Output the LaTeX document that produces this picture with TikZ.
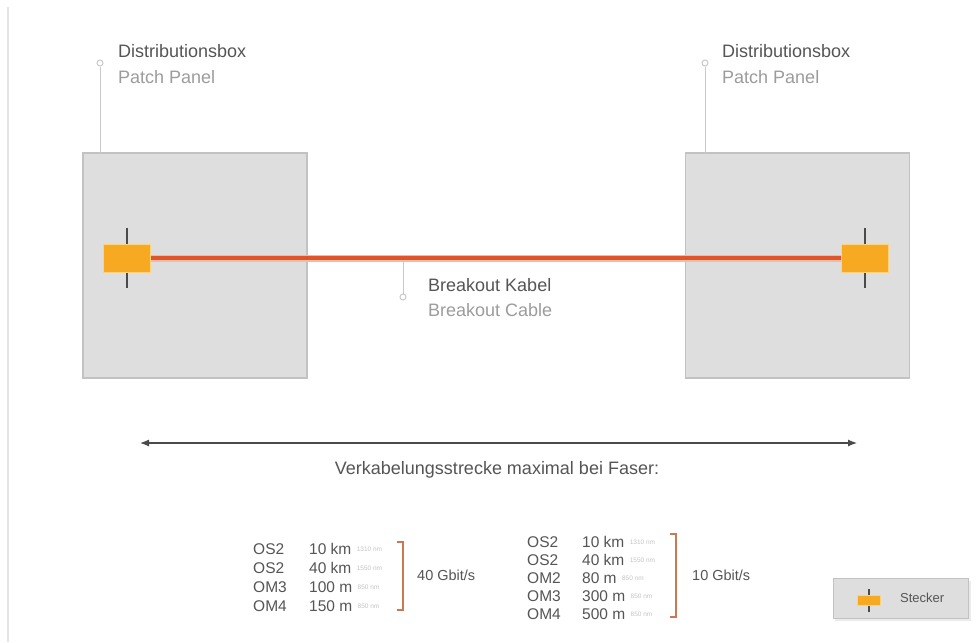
\documentclass[tikz,border=0pt]{standalone}
\usepackage{fontspec}
\setmainfont{Liberation Sans}
\usetikzlibrary{arrows.meta}
\definecolor{boxfill}{HTML}{DEDEDE}
\definecolor{boxborder}{HTML}{C2C2C2}
\definecolor{plug}{HTML}{F7A922}
\definecolor{plugedge}{HTML}{FCD37E}
\definecolor{cablec}{HTML}{E0542A}
\definecolor{cablehalo}{HTML}{F3B9A2}
\definecolor{darktext}{HTML}{555555}
\definecolor{lighttext}{HTML}{9C9C9C}
\definecolor{leader}{HTML}{C9C9C9}
\definecolor{bracketc}{HTML}{C97A55}
\definecolor{tickc}{HTML}{4A4A4A}
\tikzset{
  panelbox/.style={draw=boxborder, fill=boxfill, line width=1.2pt, minimum width=224pt, minimum height=225pt, inner sep=0pt},
  plugbox/.style={draw=plugedge, fill=plug, line width=1pt, minimum width=47pt, minimum height=28pt, inner sep=0pt},
  plugtick/.style={draw=tickc, line width=1.4pt},
  cableline/.style={draw=cablec, line width=4.5pt},
  cablehaloline/.style={draw=cablehalo, line width=7pt},
  leaderline/.style={draw=leader, line width=1pt},
  leaderdot/.style={circle, draw=leader, fill=white, line width=1pt, minimum size=6pt, inner sep=0pt},
  titletext/.style={anchor=base west, inner sep=0pt, text=darktext, font=\fontsize{18}{21}\selectfont},
  subtext/.style={anchor=base west, inner sep=0pt, text=lighttext, font=\fontsize{18}{21}\selectfont},
  tabtext/.style={anchor=base west, inner sep=0pt, text=darktext, font=\fontsize{15.5}{17}\selectfont},
  tinytext/.style={anchor=base west, inner sep=0pt, text=lighttext!60, font=\fontsize{6.5}{7}\selectfont},
  bracketline/.style={draw=bracketc, line width=1.3pt},
  spanarrow/.style={draw=tickc, line width=1.2pt, {Latex[length=9pt,width=7pt]}-{Latex[length=9pt,width=7pt]}},
}
\begin{document}
\begin{tikzpicture}[x=1pt,y=-1pt]
\useasboundingbox (0,0) rectangle (979,642);
\fill[white] (0,0) rectangle (979,642);
% faint page rule
\coordinate (ruleTop) at (8,7);
\coordinate (ruleBot) at (8,642);
\draw[draw=black!10, line width=1.5pt] (ruleTop) -- (ruleBot);

% panels
\node[panelbox] (boxL) at (195,265.5) {};
\node[panelbox] (boxR) at (797.5,265.5) {};

% leaders to panels
\node[leaderdot] (dotL) at (100,63) {};
\node[leaderdot] (dotR) at (705,63) {};
\coordinate (boxLtop) at (100,153);
\coordinate (boxRtop) at (705,153);
\draw[leaderline] (dotL) -- (boxLtop);
\draw[leaderline] (dotR) -- (boxRtop);
\node[titletext] (tL1) at (118,58) {Distributionsbox};
\node[subtext] (tL2) at (118,83) {Patch Panel};
\node[titletext] (tR1) at (722,58) {Distributionsbox};
\node[subtext] (tR2) at (722,83) {Patch Panel};

% plug ticks
\coordinate (tkL1) at (127,228);
\coordinate (tkL2) at (127,288);
\coordinate (tkR1) at (865,228);
\coordinate (tkR2) at (865,288);
\draw[plugtick] (tkL1) -- (tkL2);
\draw[plugtick] (tkR1) -- (tkR2);

% plugs
\node[plugbox] (plugL) at (126.5,258) {};
\node[plugbox] (plugR) at (865,258) {};

% cable
\draw[cablehaloline] (plugL.east) -- (plugR.west);
\draw[cableline] (plugL.east) -- (plugR.west);

% breakout leader
\node[leaderdot] (dotC) at (403,297) {};
\coordinate (cableTap) at (403,261);
\draw[leaderline] (cableTap) -- (dotC);
\node[titletext] (tC1) at (428,291) {Breakout Kabel};
\node[subtext] (tC2) at (428,316) {Breakout Cable};

% span arrow
\coordinate (arrL) at (140,443);
\coordinate (arrR) at (857,443);
\draw[spanarrow] (arrL) -- (arrR);
\node[anchor=base, inner sep=0pt, text=darktext, font=\fontsize{18}{21}\selectfont] (span) at (497,474) {Verkabelungsstrecke maximal bei Faser:};

% left table (40 Gbit/s)
\node[tabtext] (a1) at (253,554) {OS2};
\node[tabtext] (a2) at (253,573) {OS2};
\node[tabtext] (a3) at (253,592) {OM3};
\node[tabtext] (a4) at (253,611) {OM4};
\node[tabtext] (av1) at (309,554) {10 km};
\node[tabtext] (av2) at (309,573) {40 km};
\node[tabtext] (av3) at (309,592) {100 m};
\node[tabtext] (av4) at (309,611) {150 m};
\node[tinytext] at ([xshift=5pt,yshift=3pt]av1.base east) {1310 nm};
\node[tinytext] at ([xshift=5pt,yshift=3pt]av2.base east) {1550 nm};
\node[tinytext] at ([xshift=5pt,yshift=3pt]av3.base east) {850 nm};
\node[tinytext] at ([xshift=5pt,yshift=3pt]av4.base east) {850 nm};
\coordinate (brA1) at (397,542);
\coordinate (brA2) at (403,542);
\coordinate (brA3) at (403,610);
\coordinate (brA4) at (397,610);
\draw[bracketline] (brA1) -- (brA2) -- (brA3) -- (brA4);
\node[tabtext, font=\fontsize{14.5}{17}\selectfont] (rateA) at (417,580) {40 Gbit/s};

% right table (10 Gbit/s)
\node[tabtext] (b1) at (527,547) {OS2};
\node[tabtext] (b2) at (527,565) {OS2};
\node[tabtext] (b3) at (527,583) {OM2};
\node[tabtext] (b4) at (527,601) {OM3};
\node[tabtext] (b5) at (527,619) {OM4};
\node[tabtext] (bv1) at (582,547) {10 km};
\node[tabtext] (bv2) at (582,565) {40 km};
\node[tabtext] (bv3) at (582,583) {80 m};
\node[tabtext] (bv4) at (582,601) {300 m};
\node[tabtext] (bv5) at (582,619) {500 m};
\node[tinytext] at ([xshift=5pt,yshift=3pt]bv1.base east) {1310 nm};
\node[tinytext] at ([xshift=5pt,yshift=3pt]bv2.base east) {1550 nm};
\node[tinytext] at ([xshift=5pt,yshift=3pt]bv3.base east) {850 nm};
\node[tinytext] at ([xshift=5pt,yshift=3pt]bv4.base east) {850 nm};
\node[tinytext] at ([xshift=5pt,yshift=3pt]bv5.base east) {850 nm};
\coordinate (brB1) at (670,534);
\coordinate (brB2) at (676,534);
\coordinate (brB3) at (676,617);
\coordinate (brB4) at (670,617);
\draw[bracketline] (brB1) -- (brB2) -- (brB3) -- (brB4);
\node[tabtext, font=\fontsize{14.5}{17}\selectfont] (rateB) at (692,580) {10 Gbit/s};

% legend
\fill[black!8] (835,581) rectangle (971,621);
\node[draw=boxborder, fill=boxfill, line width=1pt, minimum width=135pt, minimum height=40pt, inner sep=0pt] (legend) at (900.5,598) {};
\coordinate (lgT1) at (869,589);
\coordinate (lgT2) at (869,612);
\draw[plugtick, line width=1.2pt] (lgT1) -- (lgT2);
\node[draw=plugedge, fill=plug, line width=0.8pt, minimum width=23pt, minimum height=10pt, inner sep=0pt] (lgPlug) at (868.5,600) {};
\node[anchor=base west, inner sep=0pt, text=darktext, font=\fontsize{13}{15}\selectfont] (lgText) at (900,602) {Stecker};
\end{tikzpicture}
\end{document}
